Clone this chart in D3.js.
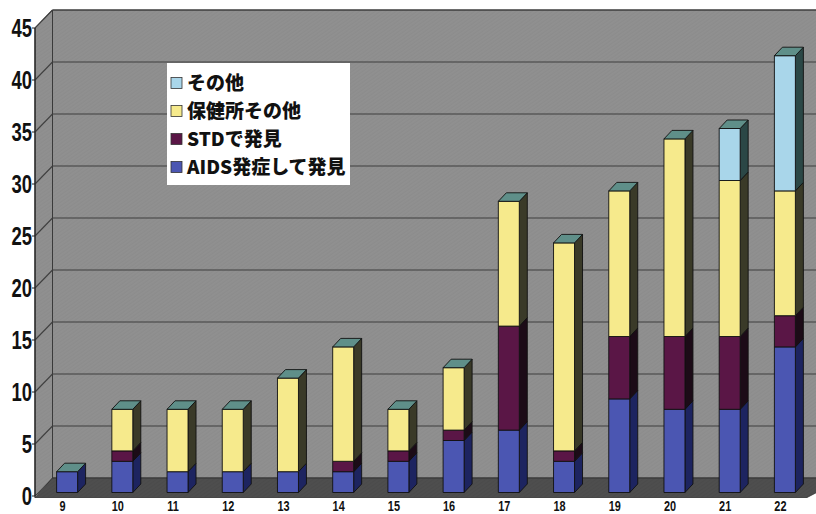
<!DOCTYPE html>
<html>
<head>
<meta charset="utf-8">
<script src="https://cdn.jsdelivr.net/npm/d3@7/dist/d3.min.js"></script>
<style>
  html, body { margin: 0; padding: 0; background: #ffffff; }
  svg { display: block; }
</style>
</head>
<body>
<svg id="chart" width="816" height="514"></svg>
<script>
// Categories (年度) and stacked series values
const categories = ["9","10","11","12","13","14","15","16","17","18","19","20","21","22"];
const aidsOnset  = [2, 3, 2, 2, 2, 2, 3, 5, 6, 3, 9, 8, 8, 14];   // AIDS発症して発見
const stdFound   = [0, 1, 0, 0, 0, 1, 1, 1, 10, 1, 6, 7, 7, 3];   // STDで発見
const healthCtr  = [0, 4, 6, 6, 9, 11, 4, 6, 12, 20, 14, 19, 15, 12]; // 保健所その他
const otherCases = [0, 0, 0, 0, 0, 0, 0, 0, 0, 0, 0, 0, 5, 13];  // その他
const yTicks = [0, 5, 10, 15, 20, 25, 30, 35, 40, 45];

const seriesNames = ["AIDS発症して発見", "STDで発見", "保健所その他", "その他"];
const seriesValues = [aidsOnset, stdFound, healthCtr, otherCases];
const frontColors = ["#4b56b2", "#5a1646", "#f6ea8c", "#a9d6ea"];
const sideColors  = ["#1d2460", "#1c0b17", "#3a3a28", "#2b4746"];
const topColor = "#5f8f89";

const svg = d3.select("#chart");

// Projection of the 3D box: front plane plus a depth offset
const DX = 17.5, DY = -18;           // full floor depth
const BX = 2.5, BY = -3.5;           // bar front face offset inside the depth
const BDX = 8, BDY = -8.5;           // bar depth
const y = d3.scaleLinear().domain([0, 45]).range([496, 28]);
const x = d3.scaleBand().domain(categories).range([37, 810]).paddingInner(0.62).paddingOuter(0.31);
const xLeft = 35, xRight = 807;

// Wall texture
const defs = svg.append("defs");
const pat = defs.append("pattern").attr("id", "grain").attr("patternUnits", "userSpaceOnUse")
  .attr("width", 3).attr("height", 3).attr("patternTransform", "rotate(-35)");
pat.append("rect").attr("width", 3).attr("height", 3).attr("fill", "#8c8c8c");
pat.append("line").attr("x1", 0).attr("y1", 1).attr("x2", 3).attr("y2", 1)
  .attr("stroke", "#939393").attr("stroke-width", 0.8);

const floorPat = defs.append("pattern").attr("id", "floorGrain").attr("patternUnits", "userSpaceOnUse")
  .attr("width", 3).attr("height", 3).attr("patternTransform", "rotate(-35)");
floorPat.append("rect").attr("width", 3).attr("height", 3).attr("fill", "#4b4b4b");
floorPat.append("line").attr("x1", 0).attr("y1", 1).attr("x2", 3).attr("y2", 1)
  .attr("stroke", "#535353").attr("stroke-width", 0.8);

const poly = pts => pts.map(p => p.join(",")).join(" ");

// Back wall
svg.append("polygon")
  .attr("points", poly([[xLeft + DX, y(45) + DY], [840, y(45) + DY], [840, y(0) + DY], [xLeft + DX, y(0) + DY]]))
  .attr("fill", "url(#grain)").attr("stroke", "#3a3a3a").attr("stroke-width", 1);

// Left wall
svg.append("polygon")
  .attr("points", poly([[xLeft, y(45)], [xLeft + DX, y(45) + DY], [xLeft + DX, y(0) + DY], [xLeft, y(0)]]))
  .attr("fill", "url(#grain)").attr("stroke", "#3a3a3a").attr("stroke-width", 1);

// Gridlines on back and left walls
const grid = svg.append("g").attr("stroke", "#3f3f3f").attr("stroke-width", 1.1).attr("fill", "none");
yTicks.filter(v => v > 0).forEach(v => {
  grid.append("line").attr("x1", xLeft + DX).attr("x2", 840)
    .attr("y1", y(v) + DY).attr("y2", y(v) + DY);
  grid.append("line").attr("x1", xLeft).attr("y1", y(v))
    .attr("x2", xLeft + DX).attr("y2", y(v) + DY);
});

// Floor
svg.append("polygon")
  .attr("points", poly([[xLeft, y(0) + 1.5], [xLeft + DX, y(0) + DY], [xRight + DX + 20, y(0) + DY], [xRight, y(0) + 1.5]]))
  .attr("fill", "url(#floorGrain)").attr("stroke", "#2e2e2e").attr("stroke-width", 0.8);

// Value axis line with ticks and labels
svg.append("line").attr("x1", xLeft).attr("x2", xLeft).attr("y1", y(45)).attr("y2", y(0) + 1.5)
  .attr("stroke", "#222").attr("stroke-width", 1.2);
const yAx = svg.append("g");
yTicks.forEach(v => {
  yAx.append("line").attr("x1", xLeft - 3).attr("x2", xLeft).attr("y1", y(v)).attr("y2", y(v))
    .attr("stroke", "#222");
  yAx.append("text")
    .attr("transform", `translate(32,${y(v) + 9}) scale(0.74,1)`)
    .attr("text-anchor", "end")
    .attr("font-family", "'Liberation Sans', Arial, sans-serif")
    .attr("font-weight", "bold").attr("font-size", 25).attr("fill", "#111")
    .text(v);
});

// Category labels
categories.forEach(c => {
  svg.append("text")
    .attr("transform", `translate(${x(c) + x.bandwidth() / 2 - 2},511) scale(0.78,1)`)
    .attr("text-anchor", "middle")
    .attr("font-family", "'Liberation Sans', Arial, sans-serif")
    .attr("font-weight", "bold").attr("font-size", 14).attr("fill", "#111")
    .text(c);
});

// Stacked 3D columns
const rows = categories.map((c, i) => {
  const r = { cat: c };
  seriesNames.forEach((s, k) => { r[s] = seriesValues[k][i]; });
  return r;
});
const stacked = d3.stack().keys(seriesNames)(rows);

const bars = svg.append("g").attr("stroke", "#111").attr("stroke-width", 0.9).attr("stroke-linejoin", "round");
categories.forEach((c, i) => {
  const x0 = x(c) + BX, x1 = x0 + x.bandwidth();
  let topY = null;
  stacked.forEach((layer, k) => {
    const [v0, v1] = layer[i];
    if (v1 - v0 <= 0) return;
    const yb = y(v0) + BY, yt = y(v1) + BY;
    bars.append("polygon")
      .attr("points", poly([[x1, yb], [x1 + BDX, yb + BDY], [x1 + BDX, yt + BDY], [x1, yt]]))
      .attr("fill", sideColors[k]);
    bars.append("rect")
      .attr("x", x0).attr("y", yt).attr("width", x1 - x0).attr("height", yb - yt)
      .attr("fill", frontColors[k]);
    topY = yt;
  });
  bars.append("polygon")
    .attr("points", poly([[x0, topY], [x0 + BDX, topY + BDY], [x1 + BDX, topY + BDY], [x1, topY]]))
    .attr("fill", topColor);
});

// Legend
const legend = svg.append("g");
legend.append("rect").attr("x", 167).attr("y", 63).attr("width", 183).attr("height", 122).attr("fill", "#ffffff");
const legendOrder = [3, 2, 1, 0];
legendOrder.forEach((k, j) => {
  const cy = 83 + j * 28;
  legend.append("rect").attr("x", 171).attr("y", cy - 5.5).attr("width", 11).attr("height", 11)
    .attr("fill", frontColors[k]).attr("stroke", "#333").attr("stroke-width", 0.8);
  legend.append("text")
    .attr("x", 187).attr("y", cy + 7)
    .attr("font-family", "'Noto Sans CJK JP', sans-serif")
    .attr("font-weight", "900").attr("font-size", 19).attr("fill", "#111")
    .text(seriesNames[k]);
});
</script>
</body>
</html>
